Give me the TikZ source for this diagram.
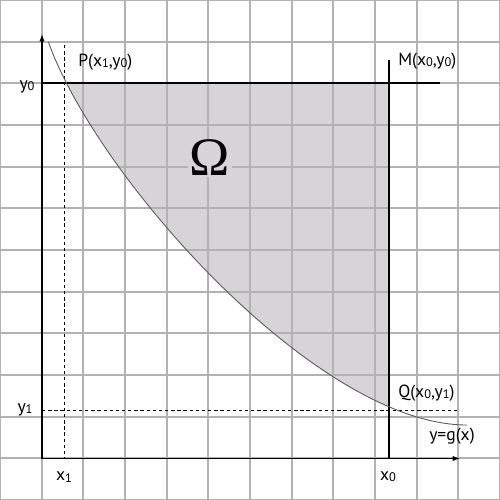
\documentclass[tikz,border=0pt]{standalone}
\usepackage{fontspec}
\setmainfont{PT Sans}
\newfontfamily\omegafont{Liberation Serif}
\usetikzlibrary{arrows.meta}
\definecolor{gridc}{RGB}{178,178,178}
\definecolor{shadec}{RGB}{214,212,214}
\definecolor{curvec}{RGB}{90,90,90}
\newcommand\dg[1]{\raisebox{-0.15ex}{\fontsize{8.5}{9}\selectfont #1}}
\begin{document}
\begin{tikzpicture}[x=0.024cm,y=-0.024cm,
  lbl/.style={inner sep=0pt, anchor=base west, font=\fontsize{12}{14}\selectfont},
  clbl/.style={inner sep=0pt, font=\fontsize{12}{14}\selectfont},
  gridline/.style={gridc, line width=1.3pt},
  axis/.style={black, line width=0.75pt, -{Latex[length=5pt,width=3.6pt]}},
  thin line/.style={black, line width=0.7pt},
  dashline/.style={black, line width=0.6pt, dash pattern=on 2.3pt off 1.9pt},
  gcurve/.style={curvec, line width=0.6pt}]
\useasboundingbox (0,0) rectangle (500,500);
% named points
\coordinate (O) at (42,458.5);
\coordinate (ytop) at (42,34);
\coordinate (xend) at (460,458.5);
\coordinate (P) at (64.3,83);
\coordinate (M) at (389,83);
\coordinate (Q) at (389,410);
\coordinate (y0l) at (42,83);
\coordinate (y0r) at (440,83);
\coordinate (x0t) at (389,60);
\coordinate (x0b) at (389,458.5);
\coordinate (x1t) at (64.3,45);
\coordinate (x1b) at (64.3,458.5);
\coordinate (y1l) at (42,410);
\coordinate (y1r) at (458,410);
\coordinate (gs) at (48.3,41.7);
\coordinate (gc1) at (96.3,177);
\coordinate (gc2) at (317,425);
\coordinate (ge) at (467,425);
% shaded region
\begin{scope}
  \clip (P) rectangle (x0b);
  \fill[shadec] (gs) .. controls (gc1) and (gc2) .. (ge) -- (467,0) -- (40,0) -- cycle;
\end{scope}
% grid
\foreach \i in {0,...,12}{
  \draw[gridline] ({\i*500/12},0) -- ({\i*500/12},500);
  \draw[gridline] (0,{\i*500/12}) -- (500,{\i*500/12});
}
% Omega
\node[fill=shadec, inner sep=1pt, font=\omegafont\fontsize{37}{40}\selectfont] (omega) at (210,158) {Ω};
% lines
\draw[dashline] (x1t) -- (x1b);
\draw[dashline] (y1l) -- (y1r);
\draw[thin line] (y0l) -- (y0r);
\draw[thin line] (x0t) -- (x0b);
\draw[gcurve] (gs) .. controls (gc1) and (gc2) .. (ge);
\draw[axis] (O) -- (ytop);
\draw[axis] ([xshift=-0.4pt]O) -- (xend);
% labels
\node[lbl] (lP) at (78,66) {P(x\dg{1},y\dg{0})};
\node[lbl] (lM) at (398,65) {M(x\dg{0},y\dg{0})};
\node[lbl] (lQ) at (398,397) {Q(x\dg{0},y\dg{1})};
\node[lbl] (lg) at (429,440) {y=g(x)};
\node[clbl] (ly0) at (27,87) {y\dg{0}};
\node[clbl] (ly1) at (25,410) {y\dg{1}};
\node[clbl] (lx1) at (64,477) {x\dg{1}};
\node[clbl] (lx0) at (388,477) {x\dg{0}};
\end{tikzpicture}
\end{document}
